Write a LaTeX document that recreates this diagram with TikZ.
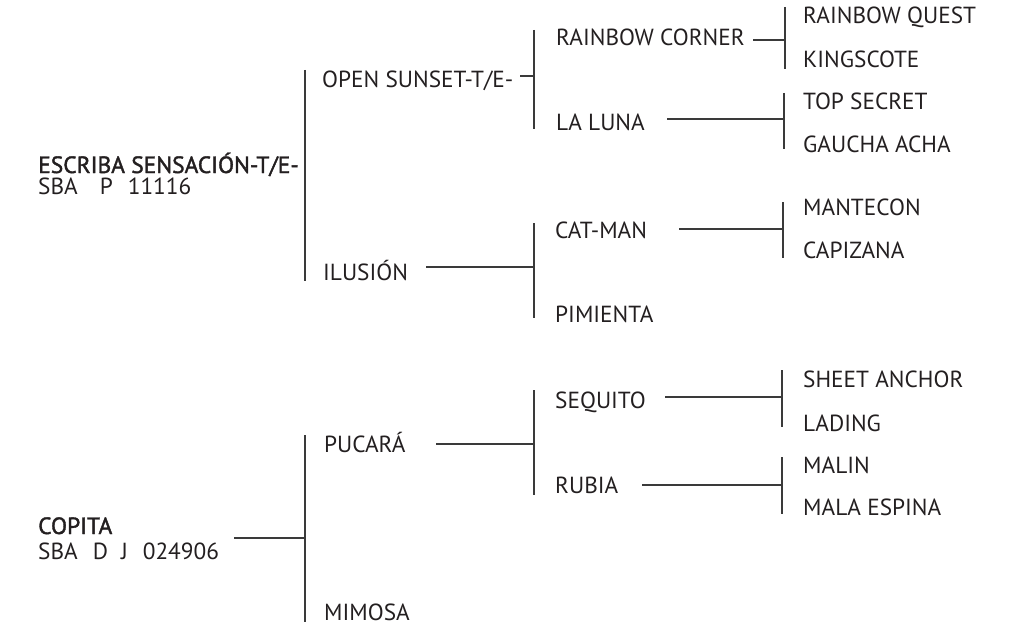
\documentclass[tikz,border=0pt]{standalone}
\usepackage{fontspec}
\setmainfont{PT Sans}
\newfontfamily\medfont{PT Sans}[FakeBold=1.6]
\usepackage{tikz}
\definecolor{ink}{HTML}{231F20}
\definecolor{rule}{HTML}{3A3A3A}
\tikzset{lbl/.style={anchor=base west,inner sep=0pt,text depth=0pt,text=ink,font=\fontsize{23.3}{26}\selectfont},
  hd/.style={lbl,font=\fontsize{23.5}{26}\medfont},
  bar/.style={draw=rule,line width=1.4pt}}

\begin{document}
\begin{tikzpicture}[x=1pt,y=-1pt]
  \useasboundingbox (0,0) rectangle (1018,626);
  % first sire line
  \node (escriba) at (38,173) [hd] {ESCRIBA SENSACIÓN-T/E-};
  \node (escreg) at (38,194) [lbl] {SBA\hspace{22pt}P\hspace{15pt}11116};
  \node (open) at (322,88) [lbl] {OPEN SUNSET-T/E-};
  \node (ilusion) at (323,280) [lbl] {ILUSIÓN};
  \node (rcorner) at (556,46) [lbl] {RAINBOW CORNER};
  \node (luna) at (556,131) [lbl] {LA LUNA};
  \node (catman) at (555,238) [lbl] {CAT-MAN};
  \node (pimienta) at (555,322) [lbl] {PIMIENTA};
  \node (rquest) at (803,24) [lbl] {RAINBOW QUEST};
  \node (kingscote) at (803,67) [lbl] {KINGSCOTE};
  \node (topsecret) at (803,110) [lbl] {TOP SECRET};
  \node (gaucha) at (803,152) [lbl] {GAUCHA ACHA};
  \node (mantecon) at (803,215) [lbl] {MANTECON};
  \node (capizana) at (803,258) [lbl] {CAPIZANA};
  % second dam line
  \node (copita) at (38,534) [hd] {COPITA};
  \node (copreg) at (38,559) [lbl] {SBA\hspace{15pt}D\hspace{13pt}J\hspace{15pt}024906};
  \node (pucara) at (324,452) [lbl] {PUCARÁ};
  \node (mimosa) at (324,620) [lbl] {MIMOSA};
  \node (sequito) at (555,408) [lbl] {SEQUITO};
  \node (rubia) at (555,493) [lbl] {RUBIA};
  \node (sheet) at (803,387) [lbl] {SHEET ANCHOR};
  \node (lading) at (803,431) [lbl] {LADING};
  \node (malin) at (803,473) [lbl] {MALIN};
  \node (mala) at (803,515) [lbl] {MALA ESPINA};

  \coordinate (escbar-t) at (305,70);   \coordinate (escbar-b) at (305,281);
  \coordinate (openbar-t) at (534,30);  \coordinate (openbar-b) at (534,129);
  \coordinate (rcbar-t) at (785,7);     \coordinate (rcbar-b) at (785,69);
  \coordinate (lunabar-t) at (784,93);  \coordinate (lunabar-b) at (784,149);
  \coordinate (ilubar-t) at (534,223);  \coordinate (ilubar-b) at (534,318);
  \coordinate (catbar-t) at (783,202);  \coordinate (catbar-b) at (783,258);
  \coordinate (copbar-t) at (305,435);  \coordinate (copbar-b) at (305,622);
  \coordinate (pucbar-t) at (534,390);  \coordinate (pucbar-b) at (534,495);
  \coordinate (seqbar-t) at (782,370);  \coordinate (seqbar-b) at (782,427);
  \coordinate (rubbar-t) at (782,457);  \coordinate (rubbar-b) at (782,514);

  \coordinate (open-r) at (520,76);
  \coordinate (rcorner-r) at (753,40);
  \coordinate (luna-r) at (667,119);
  \coordinate (ilusion-r) at (426,267);
  \coordinate (catman-r) at (679,229);
  \coordinate (copita-r) at (234,538);
  \coordinate (pucara-r) at (436,444);
  \coordinate (sequito-r) at (665,397);
  \coordinate (rubia-r) at (642,485);

  \foreach \b in {escbar,openbar,rcbar,lunabar,ilubar,catbar,copbar,pucbar,seqbar,rubbar}
    \draw[bar] (\b-t) -- (\b-b);
  \draw[bar] (open-r) -- (open-r -| openbar-t);
  \draw[bar] (rcorner-r) -- (rcorner-r -| rcbar-t);
  \draw[bar] (luna-r) -- (luna-r -| lunabar-t);
  \draw[bar] (ilusion-r) -- (ilusion-r -| ilubar-t);
  \draw[bar] (catman-r) -- (catman-r -| catbar-t);
  \draw[bar] (copita-r) -- (copita-r -| copbar-t);
  \draw[bar] (pucara-r) -- (pucara-r -| pucbar-t);
  \draw[bar] (sequito-r) -- (sequito-r -| seqbar-t);
  \draw[bar] (rubia-r) -- (rubia-r -| rubbar-t);
\end{tikzpicture}
\end{document}
